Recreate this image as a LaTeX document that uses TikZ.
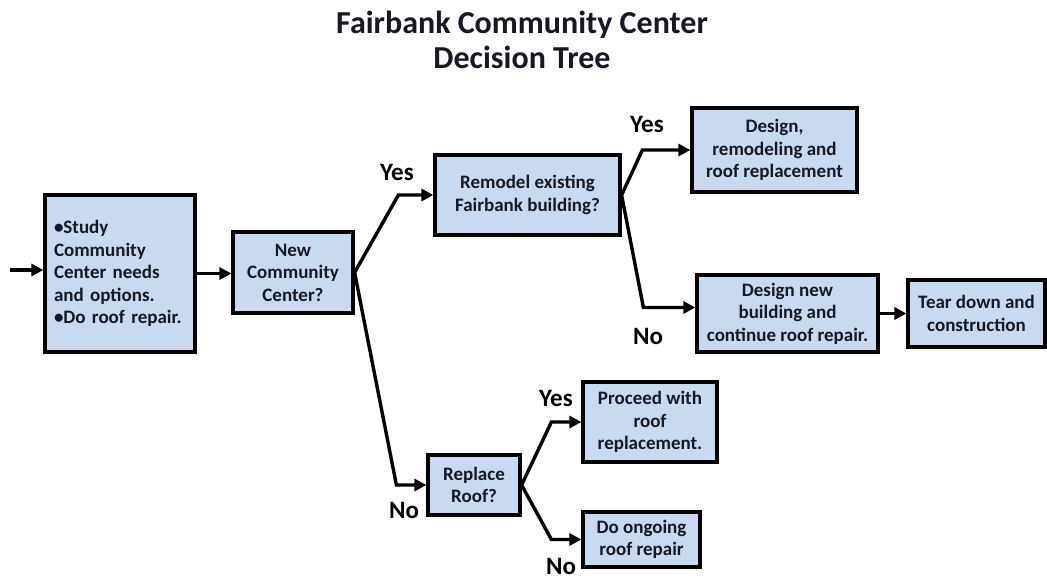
\documentclass[tikz,border=0pt]{standalone}
\usepackage{fontspec}
\setmainfont{Carlito}
\usetikzlibrary{arrows.meta}
\definecolor{boxfill}{RGB}{201,218,240}
\definecolor{txt}{RGB}{22,24,36}
\tikzset{
  box/.style={draw=black, line width=3.2pt, fill=boxfill, text=txt, font=\fontsize{19}{22.5}\selectfont\bfseries, align=center, inner sep=2pt},
  conn/.style={line width=3.4pt, -{Triangle[length=12pt,width=12pt]}, line join=miter},
  lab/.style={font=\fontsize{25}{28}\selectfont\bfseries, text=black, inner sep=0pt},
  ttl/.style={font=\fontsize{32}{35}\selectfont\bfseries, align=center, text=txt}
}
\begin{document}
\begin{tikzpicture}[x=1pt,y=-1pt]
\useasboundingbox (0,0) rectangle (1047,579);
\node[ttl] (title) at (522,40) {Fairbank Community Center\\Decision Tree};

\node[box, minimum width=150pt, minimum height=157pt, align=left, text width=132pt] (b1) at (120,273.5)
  {\textbullet Study\\Community\\Center needs\\and options.\\\textbullet Do roof repair.};
\node[box, minimum width=120pt, minimum height=81pt] (b2) at (293,272.5) {New\\Community\\Center?};
\node[box, minimum width=185pt, minimum height=80pt] (b3) at (527.5,195) {Remodel existing\\Fairbank building?};
\node[box, minimum width=165pt, minimum height=84pt] (b4) at (774.5,150) {Design,\\remodeling and\\roof replacement};
\node[box, minimum width=181pt, minimum height=77pt] (b5) at (787.5,313.5) {Design new\\building and\\continue roof repair.};
\node[box, minimum width=137pt, minimum height=67pt] (b6) at (976.5,313.5) {Tear down and\\construction};
\node[box, minimum width=92pt, minimum height=60pt] (b7) at (474,485) {Replace\\Roof?};
\node[box, minimum width=134pt, minimum height=80pt] (b8) at (650,422) {Proceed with\\roof\\replacement.};
\node[box, minimum width=117pt, minimum height=55pt] (b9) at (641.5,539.5) {Do ongoing\\roof repair};

\coordinate (start) at (10,270);
\draw[conn] (start) -- (start -| b1.west);
\draw[conn] (b1.east) -- (b1.east -| b2.west);
\draw[conn] (b2.east) -- ([xshift=-35pt]b3.west) -- (b3.west);
\draw[conn] (b2.east) -- ([xshift=-30pt]b7.west) -- (b7.west);
\draw[conn] (b3.east) -- ([xshift=-48pt]b4.west) -- (b4.west);
\draw[conn] (b3.east) -- ([xshift=-52pt,yshift=6pt]b5.west) -- ([yshift=6pt]b5.west);
\draw[conn] (b5.east) -- (b5.east -| b6.west);
\draw[conn] (b7.east) -- ([xshift=-30pt]b8.west) -- (b8.west);
\draw[conn] (b7.east) -- ([xshift=-30pt]b9.west) -- (b9.west);

\node[lab] (l1) at (397,172) {Yes};
\node[lab] (l2) at (647,124) {Yes};
\node[lab] (l3) at (648,336) {No};
\node[lab] (l4) at (404,510) {No};
\node[lab] (l5) at (556,398) {Yes};
\node[lab] (l6) at (561,566) {No};
\end{tikzpicture}
\end{document}
